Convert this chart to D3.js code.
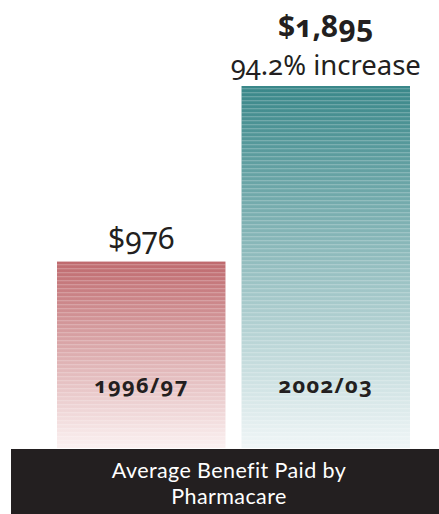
<!DOCTYPE html>
<html>
<head>
<meta charset="utf-8">
<script src="https://cdn.jsdelivr.net/npm/d3@7"></script>
<style>
  body { margin: 0; background: #fff; }
  svg text { font-family: "Noto Sans", "Open Sans", sans-serif; font-variant-numeric: oldstyle-nums; }
  svg text.title { font-family: Lato, "Noto Sans", sans-serif; }
</style>
</head>
<body>
<div id="chart"></div>
<script>
// Data
const periods = ["1996/97", "2002/03"];
const benefits = [976, 1895];
const valueLabels = ["$976", "$1,895"];
const notes = ["", "94.2% increase"];
const title = ["Average Benefit Paid by", "Pharmacare"];

const svgWidth = 439;
const svgHeight = 514;
const baseline = 448;

const svg = d3.select("#chart")
  .append("svg")
  .attr("width", svgWidth)
  .attr("height", svgHeight);

const defs = svg.append("defs");

// gradients for each bar
const palette = [
  { top: "#bf6a6e", bottom: "#fbf1f1" },
  { top: "#398789", bottom: "#f0f6f7" }
];
palette.forEach((p, i) => {
  const g = defs.append("linearGradient")
    .attr("id", "grad" + i)
    .attr("x1", 0).attr("y1", 0).attr("x2", 0).attr("y2", 1);
  g.append("stop").attr("offset", "0%").attr("stop-color", p.top);
  g.append("stop").attr("offset", "100%").attr("stop-color", p.bottom);
});

// thin horizontal lines
const pat = defs.append("pattern")
  .attr("id", "stripes")
  .attr("patternUnits", "userSpaceOnUse")
  .attr("width", 8).attr("height", 4);
pat.append("rect")
  .attr("width", 8).attr("height", 1.3)
  .attr("fill", "#fff").attr("opacity", 0.22);

// Scales
const x = d3.scaleBand()
  .domain(periods)
  .range([57, 410])
  .paddingInner(0.087)
  .paddingOuter(0);

const y = d3.scaleLinear()
  .domain([0, 1895])
  .range([baseline, 86]);

const bars = svg.selectAll(".bar")
  .data(periods)
  .enter().append("g");

bars.append("rect")
  .attr("x", d => x(d))
  .attr("y", (d, i) => y(benefits[i]))
  .attr("width", x.bandwidth())
  .attr("height", (d, i) => baseline - y(benefits[i]))
  .attr("fill", (d, i) => `url(#grad${i})`);

bars.append("rect")
  .attr("x", d => x(d))
  .attr("y", (d, i) => y(benefits[i]))
  .attr("width", x.bandwidth())
  .attr("height", (d, i) => baseline - y(benefits[i]))
  .attr("fill", "url(#stripes)");

// period labels inside bars
bars.append("text")
  .attr("x", d => x(d) + x.bandwidth() / 2)
  .attr("y", 393)
  .attr("text-anchor", "middle")
  .attr("font-size", 22)
  .attr("font-weight", "bold")
  .attr("letter-spacing", 1.2)
  .attr("fill", "#231f20")
  .text(d => d);

// value labels
bars.append("text")
  .attr("x", d => x(d) + x.bandwidth() / 2)
  .attr("y", (d, i) => i === 0 ? y(benefits[i]) - 13 : y(benefits[i]) - 49)
  .attr("text-anchor", "middle")
  .attr("font-size", 30)
  .attr("font-weight", (d, i) => i === 0 ? "normal" : "bold")
  .attr("fill", "#231f20")
  .text((d, i) => valueLabels[i]);

bars.append("text")
  .attr("x", d => x(d) + x.bandwidth() / 2)
  .attr("y", (d, i) => y(benefits[i]) - 11)
  .attr("text-anchor", "middle")
  .attr("font-size", 27.5)
  .attr("fill", "#231f20")
  .text((d, i) => notes[i]);

// title banner
svg.append("rect")
  .attr("x", 11)
  .attr("y", 449)
  .attr("width", svgWidth - 11)
  .attr("height", svgHeight - 449)
  .attr("fill", "#231f20");

svg.selectAll(".title")
  .data(title)
  .enter().append("text")
  .attr("class", "title")
  .attr("x", 229)
  .attr("y", (d, i) => 477.5 + i * 26.5)
  .attr("text-anchor", "middle")
  .attr("font-size", 21.5)
  .attr("letter-spacing", 0.4)
  .attr("fill", "#fff")
  .text(d => d);
</script>
</body>
</html>
